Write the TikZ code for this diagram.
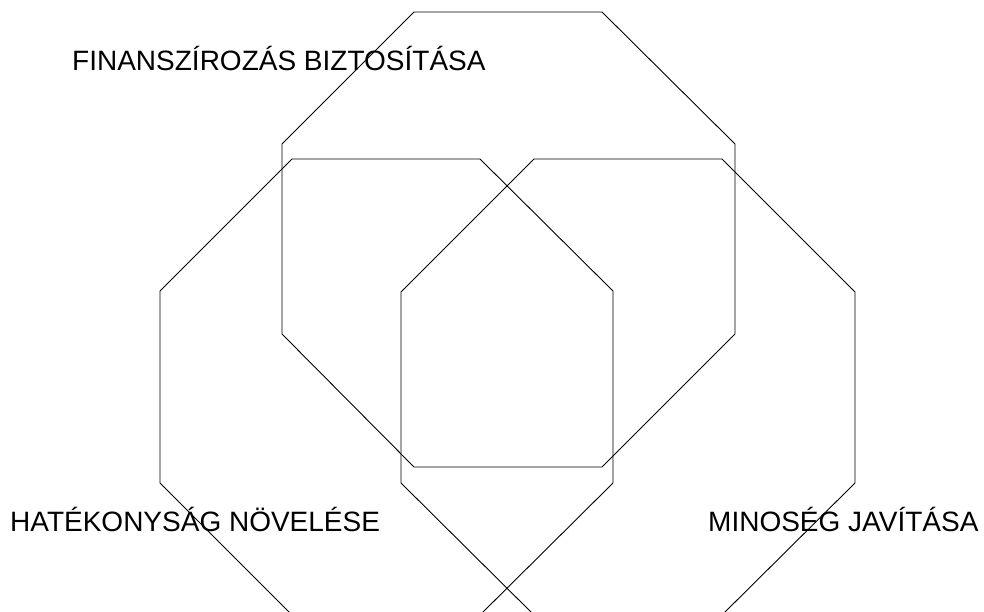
\documentclass[tikz,border=0pt]{standalone}
\usepackage{fontspec}
\setmainfont{Liberation Sans}
\begin{document}
\begin{tikzpicture}[x=1pt,y=-1pt,
  oct/.style={draw=black,line width=0.9pt,line join=miter},
  lbl/.style={anchor=base west,inner sep=0pt,font=\fontsize{28}{32}\selectfont}]
\useasboundingbox (0,0) rectangle (984,612);
\clip (0,0) rectangle (984,612);
\fill[white] (0,0) rectangle (984,612);
% top octagon
\draw[oct] (414,12) -- (602,12) -- (735,144) -- (735,334) -- (602,467) -- (414,467) -- (282,334) -- (282,144) -- cycle;
% left octagon
\draw[oct] (292,159) -- (480,159) -- (613,291) -- (613,483) -- (480,615) -- (292,615) -- (160,483) -- (160,291) -- cycle;
% right octagon
\draw[oct] (534,159) -- (722,159) -- (855,292) -- (855,483) -- (722,615) -- (534,615) -- (401,483) -- (401,292) -- cycle;
\node[lbl] (fin) at (72,71) {FINANSZÍROZÁS BIZTOSÍTÁSA};
\node[lbl] (hat) at (10,531) {HATÉKONYSÁG NÖVELÉSE};
\node[lbl] (min) at (708,531) {MINOSÉG JAVÍTÁSA};
\end{tikzpicture}
\end{document}
